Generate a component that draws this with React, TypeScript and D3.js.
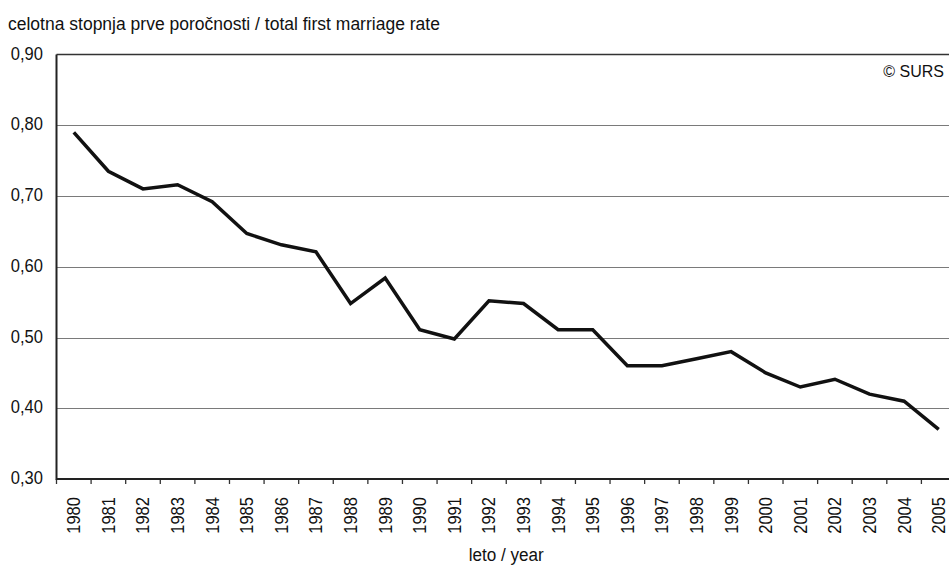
import * as d3 from "d3";

const years = [
  "1980", "1981", "1982", "1983", "1984", "1985", "1986", "1987", "1988",
  "1989", "1990", "1991", "1992", "1993", "1994", "1995", "1996", "1997",
  "1998", "1999", "2000", "2001", "2002", "2003", "2004", "2005",
];
const rates = [
  0.79, 0.735, 0.71, 0.716, 0.692, 0.647, 0.631, 0.621, 0.548, 0.584, 0.511,
  0.498, 0.552, 0.548, 0.511, 0.511, 0.46, 0.46, 0.47, 0.48, 0.45, 0.43, 0.441,
  0.42, 0.41, 0.37,
];
const yTicks = [0.3, 0.4, 0.5, 0.6, 0.7, 0.8, 0.9];

const title = "celotna stopnja prve poročnosti / total first marriage rate";
const xTitle = "leto / year";
const credit = "© SURS";

const font = "'Liberation Sans', Arial, sans-serif";
const squeeze = 0.87; // labels in the original are set in a narrow face

export default function App() {
  const width = 949;
  const height = 568;
  const marginLeft = 56.5;
  const plotRight = 956;
  const marginTop = 54.5;
  const plotBottom = 479;

  const x = d3.scaleBand().domain(years).range([marginLeft, plotRight]);
  const y = d3.scaleLinear().domain([0.3, 0.9]).range([plotBottom, marginTop]);
  const fmt = (v: number) => d3.format(".2f")(v).replace(".", ",");
  const cx = (yr: string) => x(yr)! + x.bandwidth() / 2;

  const line = d3
    .line<number>()
    .x((_, i) => cx(years[i]))
    .y((d) => y(d));

  const boundaries = years.map((yr) => x(yr)!).concat([plotRight]);

  return (
    <svg
      width={width}
      height={height}
      style={{ position: "absolute", left: 0, top: 0, background: "#fff" }}
      fontFamily={font}
    >
      <text x={8} y={30} fontSize={17.5} fill="#111">
        {title}
      </text>

      {/* gridlines */}
      {yTicks.slice(1, -1).map((t) => (
        <line
          key={t}
          x1={marginLeft}
          x2={plotRight}
          y1={Math.round(y(t)) + 0.5}
          y2={Math.round(y(t)) + 0.5}
          stroke="#7a7a7a"
          strokeWidth={1.2}
        />
      ))}
      <line x1={marginLeft} x2={plotRight} y1={marginTop} y2={marginTop} stroke="#333" strokeWidth={1.3} />

      {/* y labels */}
      {yTicks.map((t) => (
        <text
          key={t}
          transform={`translate(43,${y(t) + 5}) scale(${squeeze},1)`}
          textAnchor="end"
          fontSize={19}
          fill="#111"
        >
          {fmt(t)}
        </text>
      ))}

      {/* x ticks */}
      {boundaries.map((b, i) => (
        <line key={i} x1={b} x2={b} y1={plotBottom} y2={plotBottom + 5} stroke="#333" strokeWidth={1.3} />
      ))}
      {years.map((yr) => (
        <text
          key={yr}
          transform={`translate(${cx(yr) + 6.5},497) rotate(-90) scale(${squeeze},1)`}
          textAnchor="end"
          fontSize={19}
          fill="#111"
        >
          {yr}
        </text>
      ))}

      {/* axes */}
      <line x1={marginLeft} x2={marginLeft} y1={marginTop} y2={plotBottom + 1} stroke="#222" strokeWidth={2} />
      <line x1={marginLeft} x2={plotRight} y1={plotBottom} y2={plotBottom} stroke="#222" strokeWidth={2} />

      <path d={line(rates)!} fill="none" stroke="#111" strokeWidth={3.5} strokeLinejoin="miter" />

      <text x={944} y={77} textAnchor="end" fontSize={16} fill="#111">
        {credit}
      </text>
      <text
        transform={`translate(${(marginLeft + plotRight) / 2},561) scale(0.9,1)`}
        textAnchor="middle"
        fontSize={19}
        fill="#111"
      >
        {xTitle}
      </text>
    </svg>
  );
}
